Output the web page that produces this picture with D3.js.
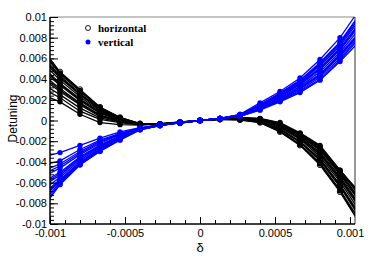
<!DOCTYPE html>
<html>
<head>
<meta charset="utf-8">
<script src="https://cdn.jsdelivr.net/npm/d3@7"></script>
<style>
  body { margin: 0; background: #fff; }
  svg { display: block; }
  .tick text { font-family: "Liberation Sans", Arial, sans-serif; font-size: 11px; fill: #000; }
</style>
</head>
<body>
<svg id="chart" width="382" height="260"></svg>
<script>
// delta values of the scan (points at both ends fall outside the frame)
const delta = [-0.0010667, -0.0009333, -0.0008, -0.0006667, -0.0005333, -0.0004, -0.0002667, -0.0001333,
  0, 0.0001333, 0.0002667, 0.0004, 0.0005333, 0.0006667, 0.0008, 0.0009333, 0.0010667];

// detuning in units of 1e-3, one row per curve
const horizontal = [
  [7.2, 4.7, 3.0, 1.3, 0.3, -0.3, -0.4, -0.25, 0, 0.1, 0.05, -0.2, -1.1, -2.4, -4.3, -6.9, -10.0],
  [6.5, 4.3, 2.6, 1.1, 0.2, -0.32, -0.4, -0.22, 0, 0.12, 0.12, -0.1, -0.9, -2.1, -3.9, -6.4, -9.4],
  [5.4, 3.6, 2.1, 0.8, 0.05, -0.35, -0.37, -0.2, 0, 0.15, 0.2, 0.05, -0.6, -1.7, -3.3, -5.7, -8.5],
  [7.0, 4.6, 2.9, 1.25, 0.28, -0.3, -0.4, -0.24, 0, 0.11, 0.08, -0.18, -1.05, -2.35, -4.2, -6.8, -9.85],
  [6.8, 4.5, 2.8, 1.2, 0.25, -0.3, -0.4, -0.25, 0, 0.12, 0.1, -0.15, -1.0, -2.3, -4.1, -6.7, -9.7],
  [6.3, 4.2, 2.55, 1.05, 0.18, -0.32, -0.39, -0.22, 0, 0.12, 0.13, -0.08, -0.85, -2.05, -3.8, -6.3, -9.25],
  [6.1, 4.1, 2.5, 1.0, 0.15, -0.33, -0.38, -0.22, 0, 0.13, 0.15, -0.05, -0.8, -2.0, -3.7, -6.2, -9.1],
  [5.8, 3.9, 2.3, 0.9, 0.1, -0.35, -0.38, -0.2, 0, 0.14, 0.18, 0.0, -0.7, -1.8, -3.5, -5.9, -8.8],
  [5.2, 3.5, 2.0, 0.75, 0.03, -0.35, -0.37, -0.19, 0, 0.15, 0.21, 0.06, -0.55, -1.65, -3.2, -5.55, -8.35],
  [5.0, 3.4, 1.9, 0.7, 0.0, -0.36, -0.36, -0.18, 0, 0.15, 0.22, 0.08, -0.5, -1.6, -3.1, -5.4, -8.2],
  [4.6, 3.1, 1.7, 0.55, -0.05, -0.37, -0.35, -0.18, 0, 0.16, 0.24, 0.1, -0.4, -1.5, -2.9, -5.2, -7.9],
  [4.4, 2.95, 1.6, 0.48, -0.08, -0.38, -0.35, -0.17, 0, 0.16, 0.25, 0.11, -0.38, -1.45, -2.8, -5.1, -7.75],
  [4.2, 2.8, 1.5, 0.4, -0.1, -0.38, -0.34, -0.16, 0, 0.16, 0.25, 0.12, -0.35, -1.4, -2.7, -5.0, -7.6],
  [3.7, 2.5, 1.2, 0.25, -0.15, -0.4, -0.33, -0.15, 0, 0.17, 0.26, 0.15, -0.3, -1.3, -2.6, -4.9, -7.3],
  [3.2, 2.2, 0.9, 0.1, -0.2, -0.42, -0.32, -0.15, 0, 0.17, 0.27, 0.17, -0.25, -1.25, -2.5, -4.8, -7.1],
  [2.6, 1.8, 0.6, -0.2, -0.4, -0.45, -0.3, -0.14, 0, 0.18, 0.28, 0.2, -0.2, -1.2, -2.4, -4.8, -7.0]
];
// first rows of horizontal are drawn with open markers
const openRows = 3;

const vertical = [
  [-3.6, -3.1, -2.4, -1.7, -1.1, -0.7, -0.4, -0.2, 0, 0.2, 0.6, 1.7, 2.8, 4.1, 5.9, 8.0, 10.8],
  [-4.4, -3.9, -2.8, -1.9, -1.25, -0.74, -0.42, -0.2, 0, 0.2, 0.56, 1.55, 2.65, 3.9, 5.6, 7.6, 10.3],
  [-5.0, -4.2, -3.0, -2.0, -1.3, -0.75, -0.42, -0.2, 0, 0.2, 0.55, 1.5, 2.6, 3.8, 5.5, 7.5, 10.2],
  [-5.3, -4.4, -3.15, -2.1, -1.35, -0.76, -0.43, -0.2, 0, 0.2, 0.53, 1.45, 2.55, 3.75, 5.4, 7.35, 10.0],
  [-5.6, -4.6, -3.3, -2.2, -1.4, -0.78, -0.43, -0.2, 0, 0.2, 0.52, 1.4, 2.5, 3.7, 5.3, 7.2, 9.8],
  [-6.1, -5.0, -3.5, -2.35, -1.5, -0.8, -0.44, -0.2, 0, 0.2, 0.5, 1.35, 2.4, 3.6, 5.1, 7.0, 9.5],
  [-6.3, -5.15, -3.6, -2.42, -1.52, -0.81, -0.45, -0.2, 0, 0.2, 0.49, 1.32, 2.35, 3.5, 5.0, 6.9, 9.35],
  [-6.5, -5.3, -3.7, -2.5, -1.55, -0.82, -0.45, -0.2, 0, 0.2, 0.48, 1.3, 2.3, 3.45, 4.9, 6.8, 9.2],
  [-6.9, -5.5, -3.85, -2.6, -1.6, -0.84, -0.46, -0.2, 0, 0.19, 0.46, 1.25, 2.2, 3.3, 4.7, 6.6, 8.9],
  [-7.3, -5.7, -4.0, -2.7, -1.7, -0.86, -0.47, -0.2, 0, 0.19, 0.45, 1.2, 2.1, 3.2, 4.5, 6.4, 8.6],
  [-7.5, -5.8, -4.05, -2.75, -1.72, -0.86, -0.47, -0.2, 0, 0.19, 0.44, 1.18, 2.05, 3.1, 4.4, 6.3, 8.5],
  [-7.7, -5.9, -4.1, -2.8, -1.75, -0.87, -0.48, -0.21, 0, 0.19, 0.44, 1.15, 2.0, 3.05, 4.35, 6.2, 8.4],
  [-8.1, -6.0, -4.2, -2.9, -1.8, -0.88, -0.49, -0.21, 0, 0.18, 0.42, 1.1, 1.95, 2.9, 4.2, 6.0, 8.2],
  [-8.5, -6.1, -4.25, -2.95, -1.85, -0.89, -0.5, -0.21, 0, 0.18, 0.41, 1.05, 1.9, 2.8, 4.0, 5.85, 8.0],
  [-8.8, -6.2, -4.3, -3.0, -1.9, -0.9, -0.5, -0.21, 0, 0.18, 0.4, 1.0, 1.8, 2.7, 3.9, 5.7, 7.7]
];

const xTicks = [-0.001, -0.0005, 0, 0.0005, 0.001];
const xMinor = d3.range(-10, 11).map(d => d * 0.0001);
const yTicks = d3.range(-10, 11, 2);
const yMinor = d3.range(-50, 51, 2).map(d => d / 5);
const legendItems = ["horizontal", "vertical"];

const svg = d3.select("#chart");
const mLeft = 50, mRight = 355, mTop = 17, mBottom = 224;

const x = d3.scaleLinear().domain([-0.001, 0.0010333]).range([mLeft, mRight]);
const y = d3.scaleLinear().domain([-10, 10]).range([mBottom, mTop]);

svg.append("defs").append("clipPath").attr("id", "frame")
  .append("rect").attr("x", mLeft).attr("y", mTop)
  .attr("width", mRight - mLeft).attr("height", mBottom - mTop);

// frame
svg.append("line").attr("x1", mLeft).attr("x2", mRight).attr("y1", mTop).attr("y2", mTop)
  .attr("stroke", "#888").attr("stroke-width", 1);
svg.append("line").attr("x1", mRight).attr("x2", mRight).attr("y1", mTop).attr("y2", mBottom)
  .attr("stroke", "#333").attr("stroke-width", 1);

const line = d3.line().x((d, i) => x(delta[i])).y(d => y(d));
const plot = svg.append("g").attr("clip-path", "url(#frame)");

function drawCurve(values, color, open) {
  plot.append("path").datum(values)
    .attr("fill", "none").attr("stroke", color).attr("stroke-width", 1.3)
    .attr("d", line);
  plot.append("g").selectAll("circle").data(values).enter().append("circle")
    .attr("cx", (d, i) => x(delta[i]))
    .attr("cy", d => y(d))
    .attr("r", 2.7)
    .attr("fill", open ? "#fff" : color)
    .attr("stroke", color)
    .attr("stroke-width", open ? 0.9 : 0);
}

horizontal.forEach((c, i) => drawCurve(c, "#000", i < openRows));
vertical.forEach(c => drawCurve(c, "#0000ff", false));

// axes, ticks pointing inside the frame
const xAxis = svg.append("g").attr("transform", "translate(0," + mBottom + ")");
xAxis.call(d3.axisTop(x).tickValues(xMinor).tickSize(4).tickFormat(""));
xAxis.append("g").call(d3.axisTop(x).tickValues(xTicks).tickSize(7).tickFormat(d => String(d)));
xAxis.selectAll(".tick text").attr("y", 5).attr("dy", "0.71em");
xAxis.selectAll(".domain").attr("stroke", "#000").attr("d", "M" + mLeft + ",0H" + mRight);

const yAxis = svg.append("g").attr("transform", "translate(" + mLeft + ",0)");
yAxis.call(d3.axisRight(y).tickValues(yMinor).tickSize(4).tickFormat(""));
yAxis.append("g").call(d3.axisRight(y).tickValues(yTicks).tickSize(8)
  .tickFormat(d => String(+(d / 1000).toFixed(3))));
yAxis.selectAll(".tick text").attr("x", -3).attr("text-anchor", "end");
yAxis.selectAll(".domain").attr("d", "M0," + mTop + "V" + mBottom);

// titles
svg.append("text").attr("x", x(0)).attr("y", 252)
  .attr("text-anchor", "middle")
  .style("font-family", "'Liberation Sans', Arial, sans-serif").style("font-size", "13px")
  .text("δ");
svg.append("text").attr("transform", "translate(17," + (y(0) - 2) + ") rotate(-90)")
  .attr("text-anchor", "middle")
  .style("font-family", "'Liberation Sans', Arial, sans-serif").style("font-size", "12px")
  .text("Detuning");

// legend
const legend = svg.append("g").selectAll("g").data(legendItems).enter().append("g")
  .attr("transform", (d, i) => "translate(88," + (28 + i * 14) + ")");
legend.append("circle").attr("r", 2.5)
  .attr("fill", (d, i) => i === 0 ? "#fff" : "#0000ff")
  .attr("stroke", (d, i) => i === 0 ? "#000" : "#0000ff")
  .attr("stroke-width", (d, i) => i === 0 ? 0.9 : 0);
legend.append("text").attr("x", 10).attr("y", 4)
  .style("font-family", "'Liberation Serif', 'Times New Roman', serif")
  .style("font-weight", "bold").style("font-size", "11px")
  .text(d => d);
</script>
</body>
</html>
